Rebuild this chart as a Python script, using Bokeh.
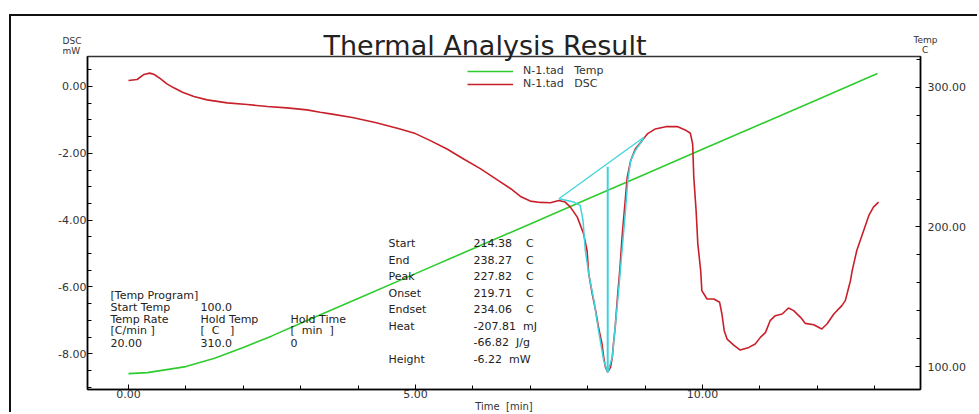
from bokeh.plotting import figure
from bokeh.models import (Range1d, LinearAxis, FixedTicker, NumeralTickFormatter,
                          Label, Legend, LegendItem, Title)
from bokeh.embed import file_html
from bokeh.resources import INLINE

# ---------------- data ----------------
temp_time = [0.0, 0.33, 1.0, 1.5, 2.0, 2.5, 3.0, 4.0, 5.0, 6.0, 7.0, 8.0, 9.0,
             10.0, 11.0, 12.0, 13.05]
temp_vals = [95.0, 95.7, 100.0, 106.0, 113.6, 122.0, 131.0, 148.8, 166.6, 184.4,
             202.2, 220.0, 237.8, 255.6, 273.4, 291.2, 310.0]

dsc_time = [0.0, 0.15, 0.27, 0.37, 0.45, 0.56, 0.67, 0.79, 0.94, 1.14, 1.37, 1.72,
            2.07, 2.42, 2.76, 3.11, 3.34, 3.52, 3.9, 4.3, 4.7, 5.0, 5.26, 5.55,
            5.84, 6.13, 6.42, 6.66, 6.83, 7.0, 7.18, 7.35, 7.5, 7.61, 7.7, 7.82,
            7.93, 7.99, 8.02, 8.08, 8.14, 8.19, 8.25, 8.28, 8.31, 8.35, 8.40, 8.43,
            8.45, 8.48, 8.52, 8.56, 8.60, 8.65, 8.69, 8.75, 8.83, 8.95, 9.04, 9.18,
            9.38, 9.56, 9.70, 9.79, 9.83, 9.85, 9.89, 9.92, 9.97, 9.99, 10.08,
            10.20, 10.30, 10.34, 10.38, 10.43, 10.55, 10.66, 10.81, 10.92, 11.01,
            11.10, 11.18, 11.27, 11.39, 11.50, 11.59, 11.71, 11.79, 11.94, 12.08,
            12.17, 12.29, 12.43, 12.49, 12.55, 12.58, 12.61, 12.69, 12.81, 12.90,
            12.98, 13.07]
dsc_vals = [0.18, 0.21, 0.36, 0.40, 0.36, 0.23, 0.08, -0.04, -0.17, -0.30, -0.40,
            -0.49, -0.54, -0.60, -0.64, -0.70, -0.77, -0.82, -0.93, -1.08, -1.26,
            -1.41, -1.62, -1.87, -2.17, -2.46, -2.79, -3.06, -3.29, -3.43, -3.47,
            -3.48, -3.41, -3.46, -3.61, -3.91, -4.41, -4.91, -5.61, -6.21, -6.71,
            -7.21, -7.70, -8.10, -8.40, -8.55, -8.40, -8.10, -7.70, -7.21, -6.31,
            -5.51, -4.51, -3.51, -2.72, -2.22, -1.87, -1.62, -1.42, -1.27, -1.20,
            -1.20, -1.30, -1.40, -1.72, -2.72, -3.71, -4.71, -5.51, -6.11, -6.36,
            -6.36, -6.46, -6.81, -7.31, -7.56, -7.75, -7.89, -7.81, -7.71, -7.51,
            -7.36, -7.01, -6.86, -6.81, -6.63, -6.71, -6.91, -7.09, -7.13, -7.26,
            -7.11, -6.81, -6.56, -6.41, -6.01, -5.81, -5.51, -4.91, -4.31, -3.86,
            -3.61, -3.46]

# peak analysis (cyan) traces
base_time = [7.50, 8.98]
base_vals = [-3.36, -1.52]
trace_time = [7.50, 7.76, 7.87, 7.92, 7.96, 8.02, 8.11, 8.19, 8.28, 8.35, 8.43,
              8.48, 8.54, 8.60, 8.66, 8.70, 8.75, 8.83, 8.95, 8.98]
trace_vals = [-3.36, -3.46, -3.56, -4.01, -4.91, -5.61, -6.41, -7.31, -8.20, -8.55,
              -8.10, -7.21, -6.11, -4.91, -3.71, -2.81, -2.22, -1.92, -1.62, -1.52]
peak_time = [8.35, 8.35]
peak_vals = [-2.40, -8.55]

x_ticks = [0, 5, 10]
x_minor = list(range(0, 14))
dsc_ticks = [-8, -6, -4, -2, 0]
dsc_minor = [v * 0.5 for v in range(-18, 2)]
temp_ticks = [100, 200, 300]
temp_minor = list(range(100, 321, 20))

result_names = ["Start", "End", "Peak", "Onset", "Endset", "Heat", "", "Height"]
result_values = ["214.38\u00a0\u00a0\u00a0\u00a0C", "238.27\u00a0\u00a0\u00a0\u00a0C",
                 "227.82\u00a0\u00a0\u00a0\u00a0C", "219.71\u00a0\u00a0\u00a0\u00a0C",
                 "234.06\u00a0\u00a0\u00a0\u00a0C", "-207.81\u00a0\u00a0mJ",
                 "-66.82\u00a0\u00a0J/g", "-6.22\u00a0\u00a0mW"]

program_rows = [["[Temp Program]", "", ""],
                ["Start Temp", "100.0", ""],
                ["Temp Rate", "Hold Temp", "Hold Time"],
                ["[C/min ]", "[\u00a0\u00a0C\u00a0\u00a0\u00a0]", "[\u00a0\u00a0min\u00a0\u00a0]"],
                ["20.00", "310.0", "0"]]

# ---------------- figure ----------------
FONT = "DejaVu Sans"
W, H = 979, 414
ML, MT = 11, 16                      # page margin (outer report frame drawn there)
FL, FR, FT, FB = 87, 920, 56, 389    # frame edges in page px

p = figure(width=W - ML, height=H - MT, output_backend="svg", toolbar_location=None,
           x_range=Range1d(-0.714, 13.80), y_range=Range1d(-9.07, 0.898),
           min_border_left=FL - ML, min_border_right=W - FR,
           min_border_top=FT - MT, min_border_bottom=H - FB)
p.margin = (MT, 0, 0, ML)
p.styles = {"box-shadow": "-2px -2px 0 0 #111111"}
p.grid.visible = False
p.background_fill_color = "white"
p.border_fill_color = "white"
p.outline_line_color = "#333333"
p.outline_line_width = 1.5

p.title.text = "Thermal Analysis Result"
p.title.align = "left"
p.title.offset = 236
p.title.standoff = -88
p.title.text_font = FONT
p.title.text_font_size = "27px"
p.title.text_font_style = "normal"
p.title.text_color = "#222222"


def cap_title(text, offset, standoff, size="9px"):
    return Title(text=text, align="left", offset=offset, standoff=standoff,
                 text_font=FONT, text_font_size=size, text_font_style="normal",
                 text_color="#333333")


# unit captions of both value axes (stacked above the frame, nearest first)
p.add_layout(cap_title("DSC\nmW", 62 - FL, 1), "above")
p.add_layout(cap_title("Temp\n\u00a0\u00a0\u00a0C", 913 - FL, -43), "above")
p.add_layout(cap_title("\u00a0", 0, 5), "above")

p.extra_y_ranges = {"temp": Range1d(83.6, 322.1)}
raxis = LinearAxis(y_range_name="temp")
p.add_layout(raxis, "right")

for ax in [p.xaxis[0], p.yaxis[0], raxis]:
    ax.axis_line_color = "black"
    ax.axis_line_width = 1.5
    ax.major_tick_in = 5
    ax.major_tick_out = 0
    ax.minor_tick_in = 4
    ax.minor_tick_out = 0
    ax.major_tick_line_color = "black"
    ax.minor_tick_line_color = "black"
    ax.major_label_text_font = FONT
    ax.major_label_text_font_size = "11px"
    ax.major_label_text_color = "#333333"
    ax.formatter = NumeralTickFormatter(format="0.00")

p.xaxis[0].ticker = FixedTicker(ticks=x_ticks, minor_ticks=x_minor)
p.xaxis[0].major_label_standoff = 0
p.xaxis[0].axis_label = "Time\u00a0\u00a0[min]"
p.xaxis[0].axis_label_standoff = 0
p.xaxis[0].axis_label_text_font = FONT
p.xaxis[0].axis_label_text_font_size = "10px"
p.xaxis[0].axis_label_text_font_style = "normal"
p.xaxis[0].axis_label_text_color = "#333333"
p.yaxis[0].ticker = FixedTicker(ticks=dsc_ticks, minor_ticks=dsc_minor)
p.yaxis[0].major_label_standoff = 1
raxis.ticker = FixedTicker(ticks=temp_ticks, minor_ticks=temp_minor)
raxis.major_label_standoff = 7

GREEN = "#2ecc2e"
RED = "#c8202a"
CYAN = "#3fd4dc"

r_temp = p.line(temp_time, temp_vals, y_range_name="temp", line_color=GREEN, line_width=1.6)
r_dsc = p.line(dsc_time, dsc_vals, line_color=RED, line_width=1.6)
p.line(base_time, base_vals, line_color=CYAN, line_width=1.3)
p.line(trace_time, trace_vals, line_color=CYAN, line_width=1.5)
p.line(peak_time, peak_vals, line_color=CYAN, line_width=2)

legend = Legend(items=[LegendItem(label="N-1.tad\u00a0\u00a0\u00a0Temp", renderers=[r_temp]),
                       LegendItem(label="N-1.tad\u00a0\u00a0\u00a0DSC", renderers=[r_dsc])],
                location=(467 - FL, FB - 90), orientation="vertical",
                glyph_width=46, glyph_height=12, label_height=12, label_standoff=10,
                spacing=0, padding=0, margin=0,
                label_text_font=FONT, label_text_font_size="11px",
                label_text_color="#333333",
                background_fill_alpha=0, border_line_alpha=0)
p.add_layout(legend)


def lab(text, cx, cy, size="11px", align="left", baseline="middle", color="#222222"):
    p.add_layout(Label(x=cx - FL, y=FB - cy, x_units="screen", y_units="screen",
                       text=text, text_font=FONT, text_font_size=size,
                       text_align=align, text_baseline=baseline, text_color=color))


for i, (n, v) in enumerate(zip(result_names, result_values)):
    cy = 243 + 16.5 * i
    if n:
        lab(n, 388, cy)
    lab(v, 473, cy)

col_x = [110, 200, 290]
for i, row in enumerate(program_rows):
    cy = 295 + 11.8 * i
    for j, t in enumerate(row):
        if t:
            lab(t, col_x[j], cy)

open("out.html", "w").write(file_html(p, INLINE))
